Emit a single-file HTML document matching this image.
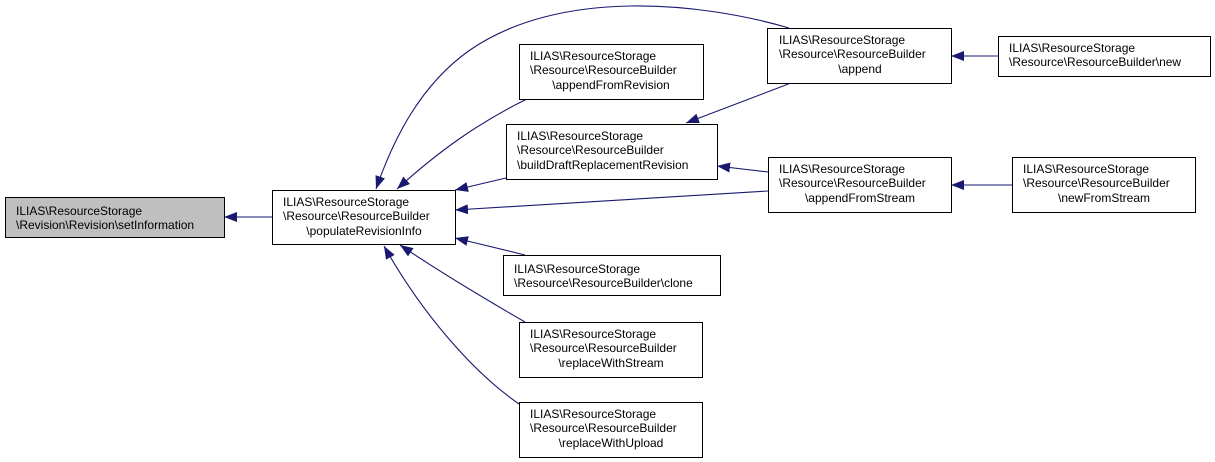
<!DOCTYPE html>
<html><head><meta charset="utf-8"><style>
html,body{margin:0;padding:0;background:#fff;}
svg{display:block;font-family:"Liberation Sans",Arial,sans-serif;font-size:12px;}
</style></head><body>
<svg width="1215" height="462" viewBox="0 0 1215 462" xmlns="http://www.w3.org/2000/svg">
<defs>
<marker id="a" markerUnits="userSpaceOnUse" markerWidth="14" markerHeight="10" refX="13" refY="5" orient="auto">
<path d="M0,0 L13,5 L0,10 Z" fill="#191970"/>
</marker>
</defs>
<g fill="none" stroke="#191970" stroke-width="1.1" marker-end="url(#a)">
<path d="M272,217 L224,217"/>
<path d="M789,28 C700,2 560,-12 470,50 C420,85 393,140 376,189"/>
<path d="M527,99 C480,122 440,150 397,189"/>
<path d="M506,178 L455,190"/>
<path d="M768,191 L455,210"/>
<path d="M525,255 L455,238"/>
<path d="M768,172 L717,166"/>
<path d="M791,83 L686,123"/>
<path d="M525,322 C480,296 440,272 400,245"/>
<path d="M519,404 C470,370 420,310 384,246"/>
<path d="M998,56 L951,56"/>
<path d="M1012,185 L951,185"/>
</g>
<g stroke="#000" stroke-width="1" fill="#fff">
<rect x="5.5" y="197.5" width="219" height="40" fill="#bfbfbf"/>
<rect x="272.5" y="190.5" width="183" height="54"/>
<rect x="519.5" y="44.5" width="184" height="55"/>
<rect x="506.5" y="124.5" width="211" height="55"/>
<rect x="503.5" y="255.5" width="217" height="40"/>
<rect x="519.5" y="322.5" width="183" height="55"/>
<rect x="519.5" y="402.5" width="183" height="55"/>
<rect x="767.5" y="28.5" width="184" height="55"/>
<rect x="768.5" y="157.5" width="183" height="55"/>
<rect x="998.5" y="36.5" width="212" height="40"/>
<rect x="1012.5" y="157.5" width="183" height="55"/>
</g>
<g fill="#000">
<text x="16" y="215">ILIAS\ResourceStorage</text>
<text x="16" y="229">\Revision\Revision\setInformation</text>

<text x="283" y="206">ILIAS\ResourceStorage</text>
<text x="283" y="220">\Resource\ResourceBuilder</text>
<text x="364" y="235" text-anchor="middle">\populateRevisionInfo</text>

<text x="530" y="60">ILIAS\ResourceStorage</text>
<text x="530" y="74">\Resource\ResourceBuilder</text>
<text x="611" y="89" text-anchor="middle">\appendFromRevision</text>

<text x="517" y="140">ILIAS\ResourceStorage</text>
<text x="517" y="154">\Resource\ResourceBuilder</text>
<text x="517" y="169">\buildDraftReplacementRevision</text>

<text x="514" y="273">ILIAS\ResourceStorage</text>
<text x="514" y="287">\Resource\ResourceBuilder\clone</text>

<text x="530" y="338">ILIAS\ResourceStorage</text>
<text x="530" y="352">\Resource\ResourceBuilder</text>
<text x="611" y="367" text-anchor="middle">\replaceWithStream</text>

<text x="530" y="418">ILIAS\ResourceStorage</text>
<text x="530" y="432">\Resource\ResourceBuilder</text>
<text x="611" y="447" text-anchor="middle">\replaceWithUpload</text>

<text x="779" y="44">ILIAS\ResourceStorage</text>
<text x="779" y="58">\Resource\ResourceBuilder</text>
<text x="860" y="73" text-anchor="middle">\append</text>

<text x="779" y="173">ILIAS\ResourceStorage</text>
<text x="779" y="187">\Resource\ResourceBuilder</text>
<text x="860" y="202" text-anchor="middle">\appendFromStream</text>

<text x="1009" y="52">ILIAS\ResourceStorage</text>
<text x="1009" y="66">\Resource\ResourceBuilder\new</text>

<text x="1023" y="173">ILIAS\ResourceStorage</text>
<text x="1023" y="187">\Resource\ResourceBuilder</text>
<text x="1104" y="202" text-anchor="middle">\newFromStream</text>
</g>
</svg>
</body></html>
